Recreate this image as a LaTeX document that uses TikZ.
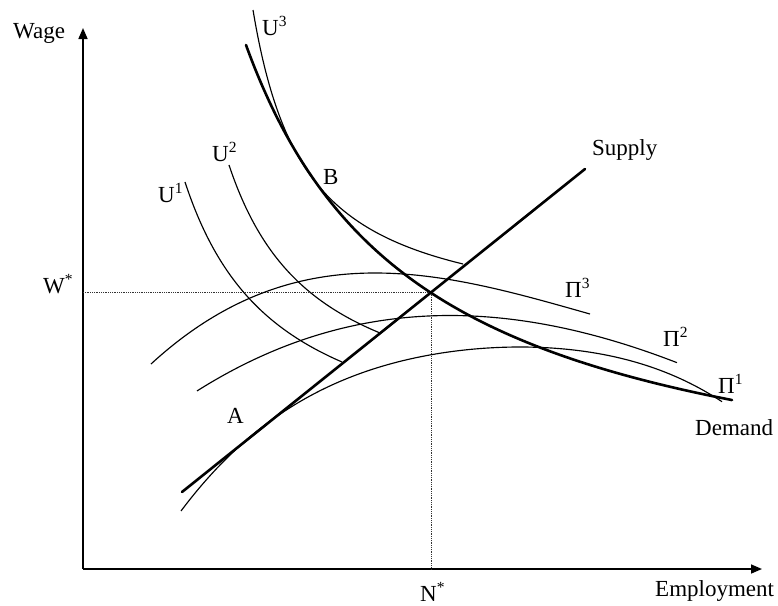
\documentclass[tikz,border=0pt]{standalone}
\usepackage{fontspec}
\setmainfont{Liberation Serif}
\usetikzlibrary{arrows.meta}
\newcommand\supx[1]{\raisebox{9pt}{\fontsize{15.5}{15.5}\selectfont #1}}
\begin{document}
\begin{tikzpicture}[x=10pt,y=-10pt,
  axis/.style={line width=1.6pt, -{Triangle[length=11pt,width=9pt]}},
  thickc/.style={line width=2.6pt, line cap=round},
  thinc/.style={line width=1.15pt},
  guide/.style={line width=0.9pt, dash pattern=on 1pt off 0.8pt, black!80},
  lab/.style={anchor=base west, inner sep=0pt, font=\fontsize{23}{26}\selectfont}]
\useasboundingbox (0,0) rectangle (77.8,60.5);
% axes
\coordinate (O) at (8.3,56.9);
\coordinate (ytop) at (8.3,2.8);
\coordinate (xend) at (76.2,56.9);
\draw[axis] (O) -- (ytop);
\draw[axis] (O) -- (xend);
% equilibrium guides
\coordinate (E) at (43.1,29.2);
\coordinate (wstar) at (8.3,29.2);
\coordinate (nstar) at (43.1,56.9);
\draw[guide] (wstar) -- (E) -- (nstar);
% supply
\coordinate (s0) at (18.2,49.2);
\coordinate (s1) at (58.5,16.9);
\draw[thickc] (s0) -- (s1);
% demand
\draw[thickc] plot[domain=24.6:73.2, samples=140, smooth] (\x,{52.86-851.12/(\x-7)});
% indifference curves
\draw[thinc] plot[domain=25.3:46.3, samples=90, smooth] (\x,{32.81-168.59/(\x-20)});
\draw[thinc] plot[domain=22.9:38.0, samples=70, smooth] (\x,{43.2-237.65/(\x-14)});
\draw[thinc] plot[domain=18.5:34.2, samples=70, smooth] (\x,{47.09-274.47/(\x-9)});
% isoprofit curves
\draw[thinc] plot[domain=15.1:59.0, samples=100, smooth] (\x,{27.3+((\x-37.5)/10)^2*(1.341-0.211*(\x-37.5)/10)});
\draw[thinc] plot[domain=19.7:67.7, samples=100, smooth] (\x,{31.55+((\x-45)/10)^2*(1.04-0.0549*(\x-45)/10)});
\draw[thinc] plot[domain=18.1:72.2, samples=120, smooth] (\x,{34.7+((\x-52)/10)^2*(0.9906+0.0605*(\x-52)/10+0.05582*((\x-52)/10)^2)});
% labels
\node[lab] (wage) at (1.3,3.8) {Wage};
\node[lab] (empl) at (65.5,59.6) {Employment};
\node[lab] (nst) at (42.0,60.1) {N\supx{*}};
\node[lab] (wst) at (4.3,29.3) {W\supx{*}};
\node[lab] (u3) at (26.2,3.5) {U\supx{3}};
\node[lab] (u2) at (21.2,16.1) {U\supx{2}};
\node[lab] (u1) at (15.8,20.2) {U\supx{1}};
\node[lab] (B) at (32.3,18.4) {B};
\node[lab] (A) at (22.7,42.3) {A};
\node[lab] (sup) at (59.2,15.5) {Supply};
\node[lab] (p3) at (56.5,29.7) {Π\supx{3}};
\node[lab] (p2) at (66.3,34.6) {Π\supx{2}};
\node[lab] (p1) at (71.8,39.3) {Π\supx{1}};
\node[lab] (dem) at (69.5,43.5) {Demand};
\end{tikzpicture}
\end{document}
